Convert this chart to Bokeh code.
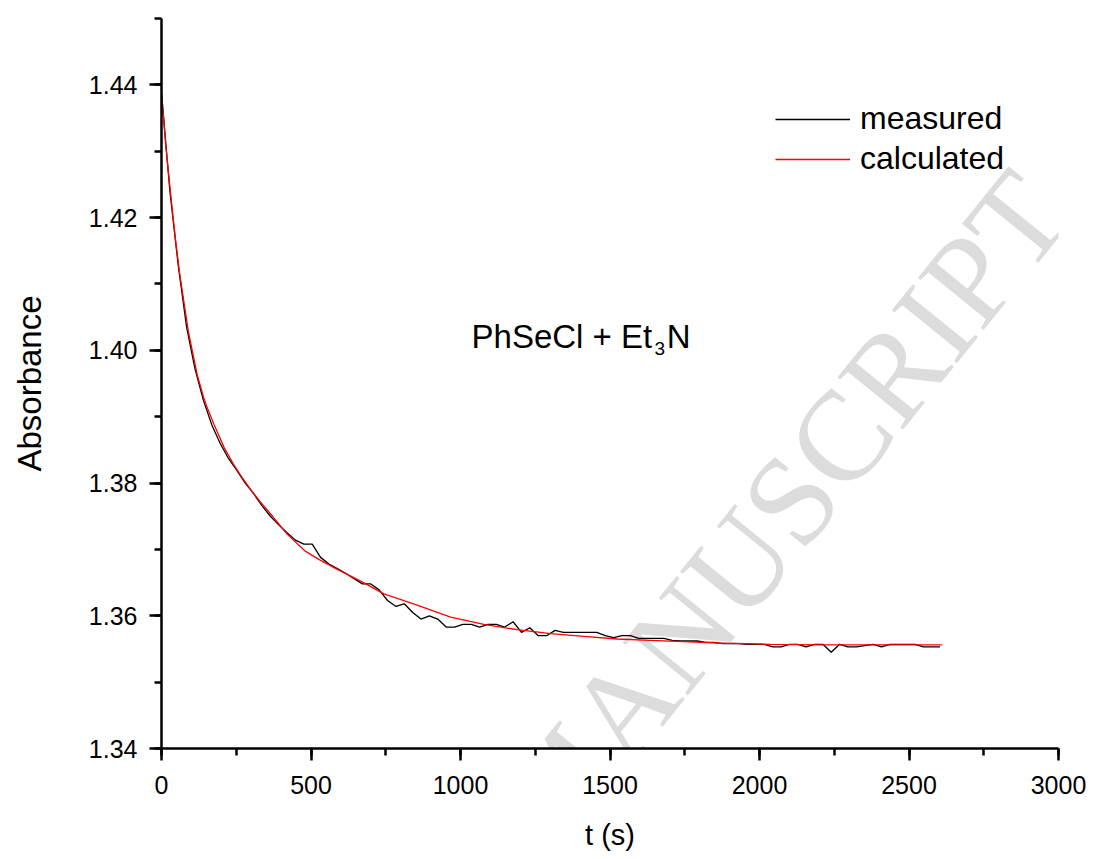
from bokeh.plotting import figure
from bokeh.models import (Range1d, SingleIntervalTicker, PrintfTickFormatter,
                          Legend, LegendItem, Label)
from bokeh.embed import file_html
from bokeh.resources import INLINE

# ---- data ----
t_measured = [0, 28, 56, 84, 112, 140, 168, 196, 224, 252, 280, 308, 336, 364, 392,
              420, 448, 476, 504, 532, 560, 588, 616, 644, 672, 700, 728, 756, 784,
              812, 840, 868, 896, 924, 952, 980, 1008, 1036, 1064, 1092, 1120, 1148,
              1176, 1204, 1232, 1260, 1288, 1316, 1344, 1372, 1400, 1428, 1456, 1484,
              1512, 1540, 1568, 1596, 1624, 1652, 1680, 1708, 1736, 1764, 1792, 1820,
              1848, 1876, 1904, 1932, 1960, 1988, 2016, 2044, 2072, 2100, 2128, 2156,
              2184, 2212, 2240, 2268, 2296, 2324, 2352, 2380, 2408, 2436, 2464, 2492,
              2520, 2548, 2576, 2604]
a_measured = [1.4388, 1.4240, 1.4128, 1.4035, 1.3972, 1.3925, 1.3888, 1.3860, 1.3837,
              1.3819, 1.3800, 1.3784, 1.3766, 1.3750, 1.3737, 1.3725, 1.3714, 1.3708,
              1.3708, 1.3688, 1.3678, 1.3671, 1.3664, 1.3656, 1.3648, 1.3648, 1.3639,
              1.3623, 1.3614, 1.3618, 1.3605, 1.3595, 1.3600, 1.3595, 1.3583, 1.3583,
              1.3587, 1.3587, 1.3583, 1.3587, 1.3587, 1.3583, 1.3591, 1.3575, 1.3582,
              1.3570, 1.3570, 1.3578, 1.3575, 1.3575, 1.3575, 1.3575, 1.3575, 1.3570,
              1.3567, 1.3570, 1.3570, 1.3566, 1.3566, 1.3566, 1.3566, 1.3563, 1.3562,
              1.3562, 1.3562, 1.3560, 1.3560, 1.3558, 1.3558, 1.3558, 1.3557, 1.3557,
              1.3557, 1.3553, 1.3553, 1.3557, 1.3557, 1.3553, 1.3557, 1.3557, 1.3545,
              1.3557, 1.3553, 1.3553, 1.3555, 1.3557, 1.3553, 1.3557, 1.3557, 1.3557,
              1.3557, 1.3553, 1.3553, 1.3553]

t_calc = [0, 15, 30, 47, 60, 90, 120, 141, 150, 175, 210, 240, 270, 300, 330, 360,
          420, 482, 526, 588, 671, 744, 855, 967, 1078, 1190, 1301, 1412, 1524, 1635,
          1747, 1858, 2037, 2200, 2400, 2610]
a_calc = [1.4388, 1.4305, 1.4238, 1.4166, 1.4118, 1.4028, 1.3962, 1.3929, 1.3917,
          1.3889, 1.3853, 1.3829, 1.3808, 1.3789, 1.3772, 1.3756, 1.3723, 1.3697,
          1.3685, 1.3670, 1.3651, 1.3633, 1.3616, 1.3598, 1.3587, 1.3579, 1.3573,
          1.3569, 1.3565, 1.3563, 1.3561, 1.3559, 1.3557, 1.3556, 1.3556, 1.3556]

series_labels = ["measured", "calculated"]
x_label = "t (s)"
y_label = "Absorbance"
note_main = "PhSeCl + Et"
note_sub = "3"
note_end = "N"
watermark = "ACCEPTED MANUSCRIPT"

FONT = "Liberation Sans"

p = figure(frame_width=897, frame_height=730,
           min_border_left=161, min_border_right=34, min_border_top=18,
           min_border_bottom=105,
           x_range=Range1d(0, 3000), y_range=Range1d(1.34, 1.45),
           output_backend="svg", toolbar_location=None)
p.outline_line_color = None
p.xgrid.visible = False
p.ygrid.visible = False
p.background_fill_color = "white"
p.border_fill_color = "white"

# watermark (behind data)
wm = Label(x=2943, y=1.4241, text=watermark, angle=0.890, text_align="right",
           text_baseline="alphabetic", text_font="Liberation Serif",
           text_font_size="128px", text_color="#dcdcdc", level="underlay")
p.add_layout(wm)

p.xaxis.ticker = SingleIntervalTicker(interval=500, num_minor_ticks=2)
p.yaxis.ticker = SingleIntervalTicker(interval=0.02, num_minor_ticks=2)
p.yaxis.formatter = PrintfTickFormatter(format="%.2f")

for ax in (p.xaxis, p.yaxis):
    ax.axis_line_width = 2.5
    ax.axis_line_color = "black"
    ax.major_tick_line_width = 2.5
    ax.minor_tick_line_width = 2.5
    ax.major_tick_line_color = "black"
    ax.minor_tick_line_color = "black"
    ax.major_tick_in = 0
    ax.major_tick_out = 12
    ax.minor_tick_in = 0
    ax.minor_tick_out = 7
    ax.major_label_text_font = FONT
    ax.major_label_text_font_size = "25px"
    ax.major_label_text_color = "black"
    ax.axis_label_text_font = FONT
    ax.axis_label_text_font_style = "normal"
    ax.axis_label_text_color = "black"

p.xaxis.axis_label = x_label
p.yaxis.axis_label = y_label
p.xaxis.axis_label_text_font_size = "29px"
p.yaxis.axis_label_text_font_size = "33px"
p.xaxis.major_label_standoff = 15
p.yaxis.major_label_standoff = 12
p.xaxis.axis_label_standoff = 22
p.yaxis.axis_label_standoff = 38

r1 = p.line(t_measured, a_measured, line_color="black", line_width=1.3)
r2 = p.line(t_calc, a_calc, line_color="red", line_width=1.3)

legend = Legend(items=[LegendItem(label=series_labels[0], renderers=[r1]),
                       LegendItem(label=series_labels[1], renderers=[r2])],
                location=(614, 571), glyph_width=75, glyph_height=30,
                label_height=30, label_standoff=10, spacing=3, padding=0,
                margin=0, border_line_color=None, background_fill_alpha=0,
                label_text_font=FONT, label_text_font_size="32px",
                label_text_color="black")
p.add_layout(legend)

p.add_layout(Label(x=1037, y=1.4021, text=note_main, text_font=FONT,
                   text_font_size="33px", text_color="black",
                   text_baseline="alphabetic"))
p.add_layout(Label(x=1649, y=1.4003, text=note_sub, text_font=FONT,
                   text_font_size="19px", text_color="black",
                   text_baseline="alphabetic"))
p.add_layout(Label(x=1690, y=1.4021, text=note_end, text_font=FONT,
                   text_font_size="33px", text_color="black",
                   text_baseline="alphabetic"))

open("out.html", "w").write(file_html(p, INLINE))
